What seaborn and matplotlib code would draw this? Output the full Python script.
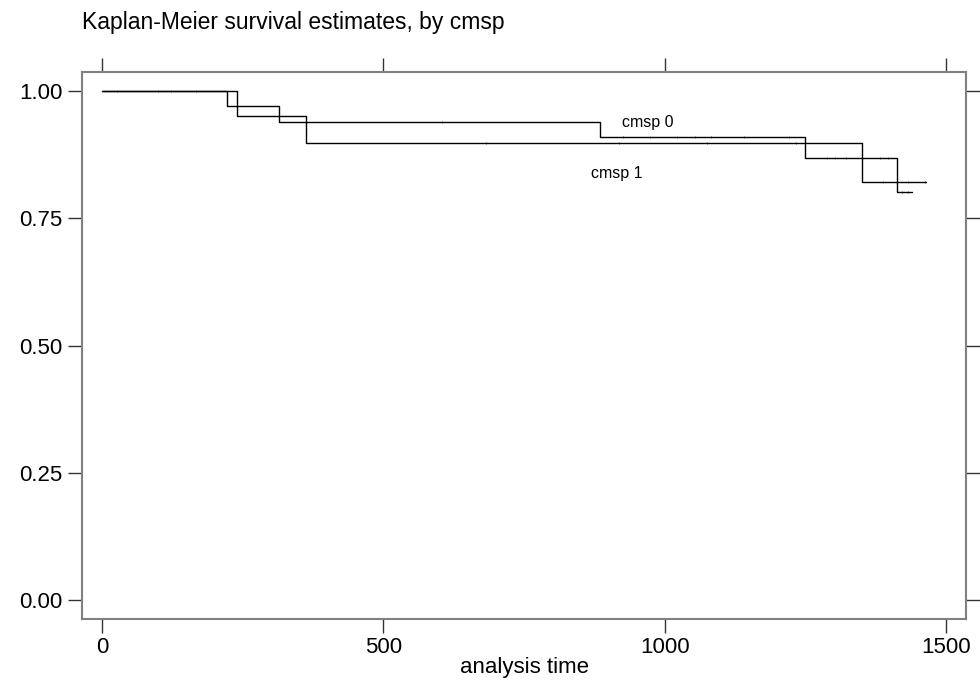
import numpy as np
import pandas as pd
import matplotlib
matplotlib.use("Agg")
import matplotlib.pyplot as plt
import seaborn as sns

# ---- data ----
title = "Kaplan-Meier survival estimates, by cmsp"
x_label = "analysis time"
group_names = ["cmsp 0", "cmsp 1"]

cmsp0_time = [0, 223, 315, 885, 1249, 1412, 1439]
cmsp0_surv = [1.000, 0.970, 0.940, 0.910, 0.868, 0.802, 0.802]
cmsp1_time = [0, 240, 362, 1351, 1465]
cmsp1_surv = [1.000, 0.950, 0.898, 0.822, 0.822]

cmsp0_censor = [26, 100, 122, 167, 604, 926, 974, 1022, 1054, 1083, 1141,
                1221, 1288, 1303, 1323, 1383, 1397, 1422, 1432]
cmsp1_censor = [682, 918, 1075, 1234, 1388, 1432, 1463]

x_ticks = [0, 500, 1000, 1500]
y_ticks = [0.00, 0.25, 0.50, 0.75, 1.00]

# ---- build tables ----
df = pd.concat([
    pd.DataFrame({"time": cmsp0_time, "surv": cmsp0_surv, "group": group_names[0]}),
    pd.DataFrame({"time": cmsp1_time, "surv": cmsp1_surv, "group": group_names[1]}),
], ignore_index=True)


def step_value(times, survs, t):
    idx = np.searchsorted(times, t, side="right") - 1
    return survs[max(idx, 0)]


cens = pd.concat([
    pd.DataFrame({"time": cmsp0_censor,
                  "surv": [step_value(cmsp0_time, cmsp0_surv, t) for t in cmsp0_censor]}),
    pd.DataFrame({"time": cmsp1_censor,
                  "surv": [step_value(cmsp1_time, cmsp1_surv, t) for t in cmsp1_censor]}),
], ignore_index=True)

# ---- style ----
sns.set_theme(style="white")
plt.rcParams["font.family"] = ["Liberation Sans", "DejaVu Sans"]
plt.rcParams["text.color"] = "black"
plt.rcParams["axes.labelcolor"] = "black"
plt.rcParams["xtick.color"] = "black"
plt.rcParams["ytick.color"] = "black"

W, H = 980, 684
fig = plt.figure(figsize=(W / 100, H / 100), dpi=100)
left, right, top, bottom = 82, 966, 72, 619
ax = fig.add_axes([left / W, 1 - bottom / H, (right - left) / W, (bottom - top) / H])

sns.lineplot(data=df, x="time", y="surv", hue="group",
             palette={group_names[0]: "black", group_names[1]: "black"},
             estimator=None, sort=False, drawstyle="steps-post",
             linewidth=1.0, legend=False, ax=ax)
sns.scatterplot(data=cens, x="time", y="surv", marker="|", s=4,
                color="#444444", linewidth=0.6, legend=False, ax=ax)

ax.set_xlim(-35.5, 1535.5)
ax.set_ylim(-0.0373, 1.0373)
ax.set_xticks(x_ticks)
ax.set_xticklabels([str(v) for v in x_ticks])
ax.set_yticks(y_ticks)
ax.set_yticklabels([f"{v:.2f}" for v in y_ticks])

ax.tick_params(axis="both", which="major", direction="out", length=10, width=1.0,
               color="#333333", labelcolor="black", labelsize=16, pad=4,
               top=True, right=True, bottom=True, left=True,
               labeltop=False, labelright=False)
ax.tick_params(axis="x", pad=3)
for sp in ax.spines.values():
    sp.set_color("#808080")
    sp.set_linewidth(1.5)

ax.set_xlabel(x_label, fontsize=16, labelpad=-1, color="black")
ax.set_ylabel("")

ax.text(970, 0.939, group_names[0], fontsize=11.5, ha="center", va="center", color="black")
ax.text(914, 0.837, group_names[1], fontsize=11.5, ha="center", va="center", color="black")

fig.text(82 / W, 1 - 23 / H, title, fontsize=16.5, ha="left", va="center", color="black")

fig.savefig("out.png", dpi=100)
